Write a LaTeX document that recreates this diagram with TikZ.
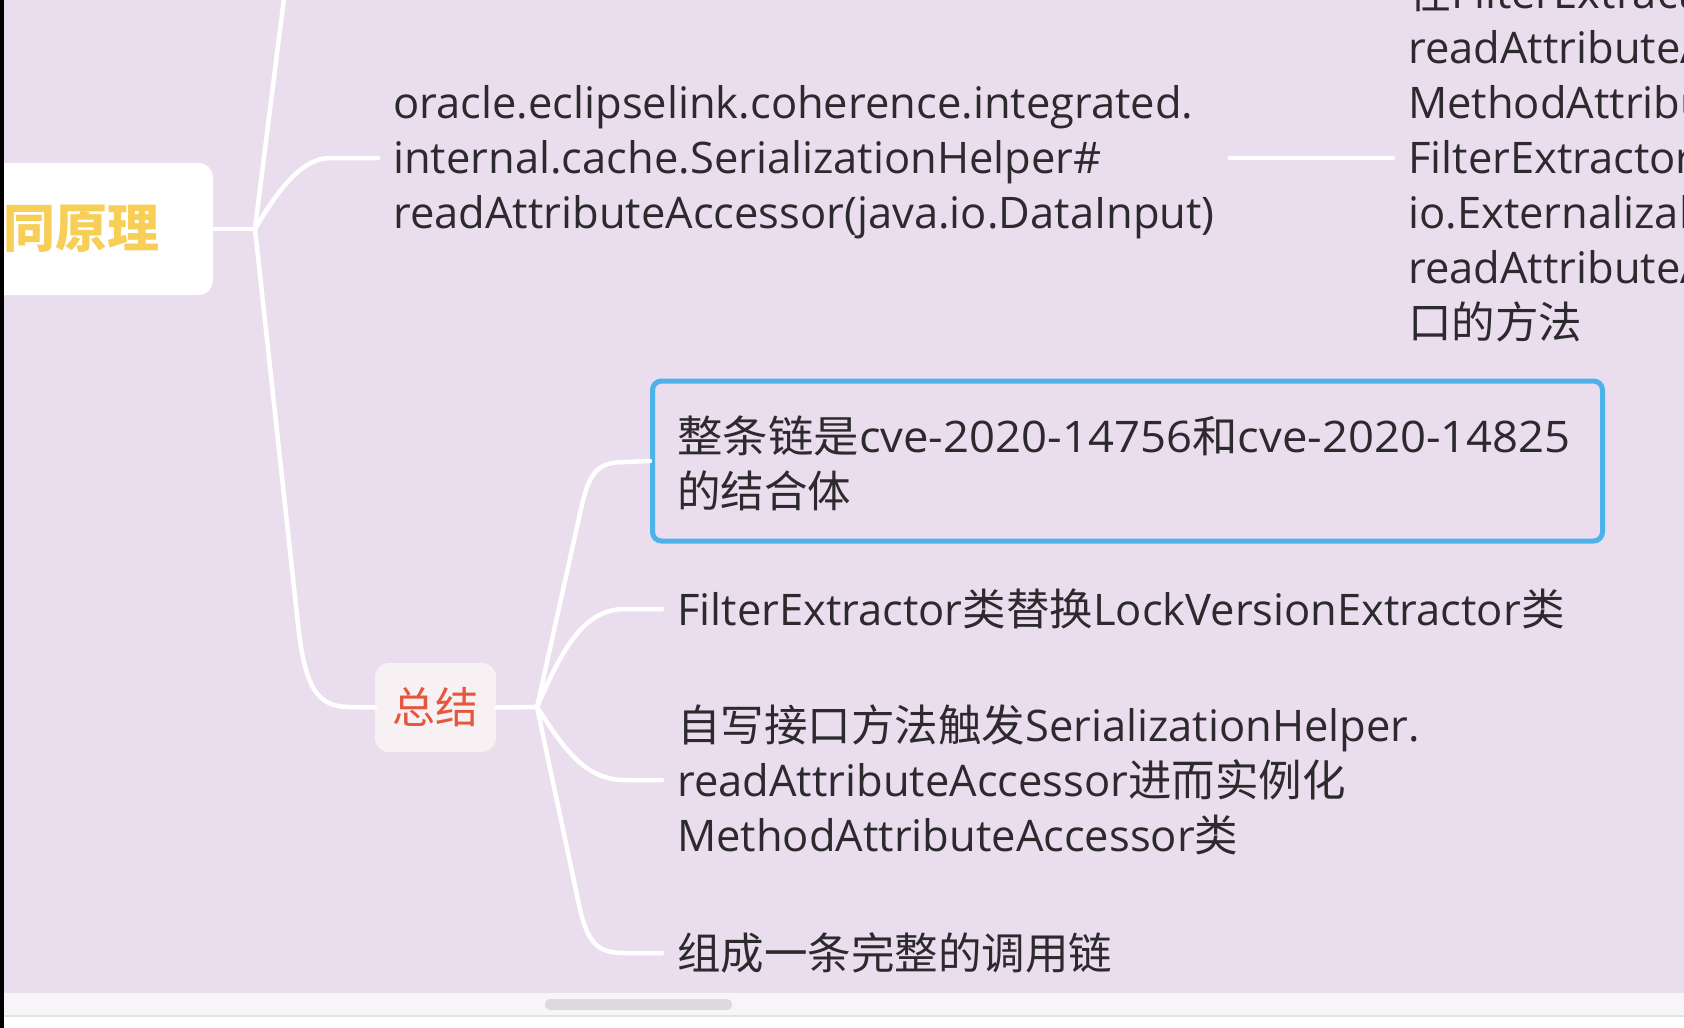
\documentclass[tikz,border=0pt]{standalone}
\usepackage{fontspec}
\setmainfont{Open Sans}
\newfontfamily\cjk{Noto Sans CJK SC}
\definecolor{bg}{HTML}{EADDEE}
\definecolor{band}{HTML}{F7F5F7}
\definecolor{bandline}{HTML}{E3E1E3}
\definecolor{scroll}{HTML}{DCDADC}
\definecolor{txt}{HTML}{2D2A2E}
\definecolor{rooty}{HTML}{F7CF57}
\definecolor{sumred}{HTML}{E4573D}
\definecolor{sumfill}{HTML}{F7F1F4}
\definecolor{boxblue}{HTML}{4CB2EA}
\begin{document}
\begin{tikzpicture}[x=1pt,y=-1pt,
  conn/.style={white, line width=4.5pt, line cap=round, line join=round},
  leaf/.style={anchor=west, inner xsep=15pt, inner ysep=0pt, align=left, text=txt, font=\fontsize{43.5pt}{55pt}\selectfont},
]
\useasboundingbox (0,0) rectangle (1684,1028);
\fill[bg] (0,0) rectangle (1684,993);
\fill[band] (0,993) rectangle (1684,1028);
\draw[bandline, line width=2pt] (0,1016) -- (1684,1016);
\fill[white] (0,1017) rectangle (1684,1028);
\fill[scroll, rounded corners=5pt] (545,999) rectangle (732,1010);

% nodes
\node[fill=white, rounded corners=14pt, anchor=east, inner xsep=53pt, inner ysep=0pt, minimum height=132pt, text=rooty, font=\cjk\bfseries\fontsize{52pt}{60pt}\selectfont] (root) at (213,229) {同原理};
\node[fill=sumfill, rounded corners=14pt, minimum width=121pt, minimum height=89pt, inner sep=0pt, text=sumred, font=\cjk\fontsize{43pt}{50pt}\selectfont] (summ) at (435.5,707.5) {总结};

\node[leaf] (oracle) at (378,162) {oracle.eclipselink.coherence.integrated.\\internal.cache.SerializationHelper\#\\readAttributeAccessor(java.io.DataInput)};
\node[leaf] (right) at (1393,157.5) {{\cjk 在}FilterExtractor\\readAttributeAccessor\\MethodAttributeAccessor\\FilterExtractor\\io.Externalizable\\readAttributeAccessor\\{\cjk 口的方法}};

\node[draw=boxblue, line width=5pt, rounded corners=9pt, minimum width=950pt, minimum height=160pt, anchor=west, inner sep=0pt] (box) at (650,461) {};
\node[leaf, inner xsep=0pt] (boxtxt) at (677,463) {\scalebox{1.045}[1]{{\cjk 整条链是}cve-2020-14756{\cjk 和}cve-2020-14825}\\{\cjk 的结合体}};
\node[leaf] (fe) at (662,609) {FilterExtractor{\cjk 类替换}LockVersionExtractor{\cjk 类}};
\node[leaf] (self) at (662,780) {{\cjk 自写接口方法触发}SerializationHelper.\\readAttributeAccessor{\cjk 进而实例化}\\MethodAttributeAccessor{\cjk 类}};
\node[leaf] (chain) at (662,953) {\cjk 组成一条完整的调用链};

\coordinate (J) at (255,229);
\coordinate (K) at (537,707);
\coordinate (topend) at (285,-10);

% connectors
\draw[conn] (root.east) -- (J);
\draw[conn] (J) -- (topend);
\draw[conn] (J) .. controls (275,195) and (300,158) .. (330,158) -- (oracle.west |- 0,158);
\draw[conn] (J) -- (297,615) .. controls (304,690) and (318,707) .. (350,707) -- (summ.west);
\draw[conn] (oracle.east |- 0,158) -- (right.west |- 0,158);
\draw[conn] (summ.east) -- (K);
\draw[conn] (K) -- (583,500) .. controls (591,470) and (600,462) .. (625,462) -- (box.west);
\draw[conn] (K) .. controls (562,650) and (583,609) .. (625,609) -- (fe.west);
\draw[conn] (K) .. controls (562,745) and (583,780) .. (625,780) -- (self.west);
\draw[conn] (K) -- (578,900) .. controls (587,945) and (598,953) .. (625,953) -- (chain.west);

\fill[black] (0,0) rectangle (4,1028);
\end{tikzpicture}
\end{document}
